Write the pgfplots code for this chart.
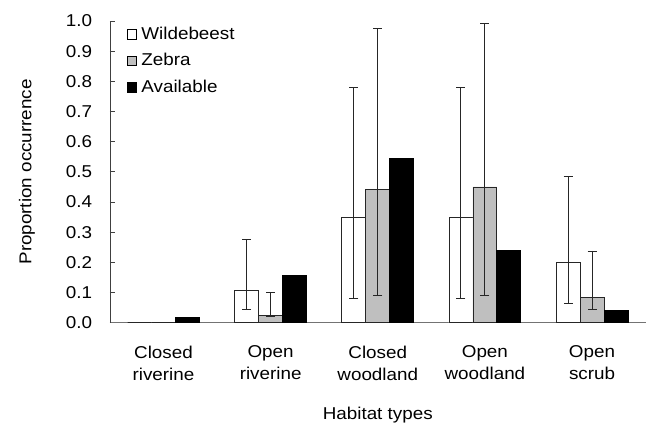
\documentclass[border=0pt]{standalone}
\usepackage{fontspec}
\setmainfont{Liberation Sans}[FakeStretch=1.1]
\usepackage{pgfplots}
\pgfplotsset{compat=1.18}
\begin{document}
\fontsize{17.2}{20}\selectfont
\begin{tikzpicture}
\begin{axis}[
  name=ax,
  scale only axis,
  width=536bp, height=302bp,
  ybar=0pt, bar width=24bp,
  xmin=-0.5, xmax=4.5,
  ymin=0, ymax=1.0,
  ytick={0,0.1,...,1.0},
  xtick={0,1,2,3,4},
  xticklabels={{Closed\\riverine},{Open\\riverine},{Closed\\woodland},{Open\\woodland},{Open\\scrub}},
  xticklabel style={align=center, font=\fontsize{17.2}{22}\selectfont, yshift=-12bp},
  major x tick style={draw=none},
  ytick align=inside,
  major tick length=5bp,
  y tick style={black!75, line width=0.8pt},
  yticklabel style={xshift=-12bp, /pgf/number format/.cd, fixed, fixed zerofill, precision=1, assume math mode=true},
  axis x line*=bottom, axis y line*=left,
  axis line style={black!75, line width=0.8pt, -},
  x axis line style={black!55},
  xlabel={Habitat types},
  xlabel style={at={(axis description cs:0.5,0)}, anchor=base, yshift=-97bp},
  legend style={at={(axis description cs:0.031,0.987)}, anchor=north west, draw=none, fill=none, inner sep=0pt, row sep=7.5bp, font=\fontsize{17.2}{20}\selectfont},
  legend cell align=left,
  legend image code/.code={\draw[#1,draw=black,line width=0.6pt] (0bp,-4.5bp) rectangle (9.5bp,5bp); \path (12bp,0bp);},
  error bars/y dir=both, error bars/y explicit,
  error bars/error bar style={black!85, line width=0.9pt},
  error bars/error mark options={rotate=90, mark size=4.5bp, line width=0.9pt, black!85},
]
\addplot[fill=white, draw=black!85, line width=0.8pt] coordinates {
 (0,0)
 (1,0.106) += (0,0.170) -= (0,0.061)
 (2,0.348) += (0,0.432) -= (0,0.268)
 (3,0.348) += (0,0.432) -= (0,0.268)
 (4,0.201) += (0,0.285) -= (0,0.138)
};
\addplot[fill=black!25, draw=black!85, line width=0.8pt] coordinates {
 (0,0)
 (1,0.025) += (0,0.074) -= (0,0.005)
 (2,0.442) += (0,0.533) -= (0,0.351)
 (3,0.450) += (0,0.542) -= (0,0.359)
 (4,0.085) += (0,0.153) -= (0,0.040)
};
\addplot[fill=black, draw=black, line width=0.8pt] coordinates {
 (0,0.018) (1,0.157) (2,0.546) (3,0.241) (4,0.042)
};
\legend{Wildebeest,Zebra,Available}
\end{axis}
\node[rotate=90, anchor=center] at ([xshift=-83bp]ax.west) {Proportion occurrence};
\path (ax.south west) ++(-110bp,-100bp) rectangle ++(646bp,423bp);
\end{tikzpicture}
\end{document}
